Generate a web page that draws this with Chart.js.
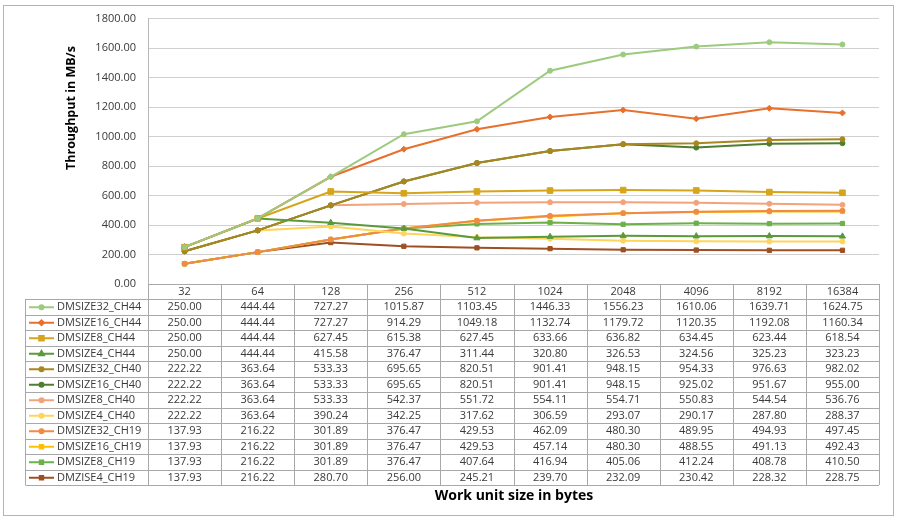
<!DOCTYPE html>
<html><head><meta charset="utf-8">
<script src="https://cdn.jsdelivr.net/npm/chart.js@4.4.1/dist/chart.umd.min.js"></script>
<style>html,body{margin:0;padding:0;background:#fff}</style>
</head><body>
<canvas id="c" width="900" height="524"></canvas>
<script>
const categories = ['32','64','128','256','512','1024','2048','4096','8192','16384'];
const seriesNames = ['DMSIZE32_CH44','DMSIZE16_CH44','DMSIZE8_CH44','DMSIZE4_CH44','DMSIZE32_CH40','DMSIZE16_CH40','DMSIZE8_CH40','DMSIZE4_CH40','DMSIZE32_CH19','DMSIZE16_CH19','DMSIZE8_CH19','DMZISE4_CH19'];
const dm32ch44 = [250.00,444.44,727.27,1015.87,1103.45,1446.33,1556.23,1610.06,1639.71,1624.75];
const dm16ch44 = [250.00,444.44,727.27,914.29,1049.18,1132.74,1179.72,1120.35,1192.08,1160.34];
const dm8ch44  = [250.00,444.44,627.45,615.38,627.45,633.66,636.82,634.45,623.44,618.54];
const dm4ch44  = [250.00,444.44,415.58,376.47,311.44,320.80,326.53,324.56,325.23,323.23];
const dm32ch40 = [222.22,363.64,533.33,695.65,820.51,901.41,948.15,954.33,976.63,982.02];
const dm16ch40 = [222.22,363.64,533.33,695.65,820.51,901.41,948.15,925.02,951.67,955.00];
const dm8ch40  = [222.22,363.64,533.33,542.37,551.72,554.11,554.71,550.83,544.54,536.76];
const dm4ch40  = [222.22,363.64,390.24,342.25,317.62,306.59,293.07,290.17,287.80,288.37];
const dm32ch19 = [137.93,216.22,301.89,376.47,429.53,462.09,480.30,489.95,494.93,497.45];
const dm16ch19 = [137.93,216.22,301.89,376.47,429.53,457.14,480.30,488.55,491.13,492.43];
const dm8ch19  = [137.93,216.22,301.89,376.47,407.64,416.94,405.06,412.24,408.78,410.50];
const dm4ch19  = [137.93,216.22,280.70,256.00,245.21,239.70,232.09,230.42,228.32,228.75];
const yTicks = [0,200,400,600,800,1000,1200,1400,1600,1800];

const seriesData = [dm32ch44,dm16ch44,dm8ch44,dm4ch44,dm32ch40,dm16ch40,dm8ch40,dm4ch40,dm32ch19,dm16ch19,dm8ch19,dm4ch19];
const colors = ['#9CCB7E','#E8702D','#D6A51C','#5A9A3A','#A8871F','#4F7D33','#F3A37C','#FFD45A','#F08A45','#FFC000','#6DB04A','#9E4F24'];
const styles = ['circle','rectRot','rect','triangle','circle','circle','circle','circle','circle','rect','rect','rect'];
const radii  = [2.5,3,4,3.5,2.5,2.5,2.5,2.5,2.5,3,3,3];

const FONT = '"Open Sans", Lato, sans-serif';

const tablePlugin = {
  id: 'dataTable',
  beforeDraw(chart) {
    const ctx = chart.ctx;
    ctx.save();
    ctx.strokeStyle = '#B4B4B4';
    ctx.lineWidth = 1;
    ctx.strokeRect(3.5, 5.5, 890, 510);
    ctx.restore();
  },
  afterDraw(chart) {
    const ctx = chart.ctx, xs = chart.scales.x, ca = chart.chartArea;
    const n = categories.length;
    const colW = (ca.right - ca.left) / n;
    const top = ca.bottom, headH = 15, rowH = 15.5;
    const legLeft = 25.5;
    const tableBottom = top + headH + rowH * seriesNames.length;
    ctx.save();
    ctx.strokeStyle = '#A8A8A8';
    ctx.lineWidth = 1;
    ctx.beginPath();
    ctx.moveTo(ca.left, Math.round(top) + 0.5); ctx.lineTo(ca.right, Math.round(top) + 0.5);
    for (let r = 0; r <= seriesNames.length; r++) {
      const y = Math.round(top + headH + r * rowH) + 0.5;
      ctx.moveTo(legLeft, y); ctx.lineTo(ca.right, y);
    }
    for (let i = 0; i <= n; i++) {
      const x = Math.round(ca.left + i * colW) + 0.5;
      ctx.moveTo(x, top); ctx.lineTo(x, tableBottom);
    }
    ctx.moveTo(legLeft, top + headH); ctx.lineTo(legLeft, tableBottom);
    ctx.stroke();

    ctx.fillStyle = '#3A3A3A';
    ctx.font = '11px ' + FONT;
    ctx.textAlign = 'center';
    ctx.textBaseline = 'middle';
    categories.forEach((c, i) => {
      ctx.fillText(c, xs.getPixelForValue(i), top + headH / 2 + 0.5);
    });
    seriesNames.forEach((name, r) => {
      const yc = top + headH + r * rowH + rowH / 2 + 0.5;
      seriesData[r].forEach((v, i) => {
        ctx.fillStyle = '#3A3A3A';
        ctx.textAlign = 'center';
        ctx.fillText(v.toFixed(2), xs.getPixelForValue(i), yc);
      });
      ctx.strokeStyle = colors[r];
      ctx.lineWidth = 2;
      ctx.beginPath(); ctx.moveTo(29, yc); ctx.lineTo(54, yc); ctx.stroke();
      ctx.fillStyle = colors[r];
      Chart.helpers.drawPoint(ctx, {pointStyle: styles[r], radius: radii[r] * 0.8, borderWidth: 1}, 41.5, yc);
      ctx.fillStyle = '#3A3A3A';
      ctx.textAlign = 'left';
      ctx.fillText(name, 57, yc);
    });

    ctx.fillStyle = '#000';
    ctx.font = 'bold 14px ' + FONT;
    ctx.textAlign = 'center';
    ctx.fillText('Work unit size in bytes', 514, 496);
    ctx.save();
    ctx.translate(71, 108);
    ctx.rotate(-Math.PI / 2);
    ctx.font = 'bold 12.5px ' + FONT;
    ctx.fillText('Throughput in MB/s', 0, 0);
    ctx.restore();
    ctx.restore();
  }
};

new Chart(document.getElementById('c'), {
  type: 'line',
  data: {
    labels: categories,
    datasets: seriesNames.map((name, i) => ({
      label: name,
      data: seriesData[i],
      borderColor: colors[i],
      backgroundColor: colors[i],
      borderWidth: 2,
      pointStyle: styles[i],
      pointRadius: radii[i],
      pointBorderWidth: 1,
      pointHoverRadius: radii[i],
      tension: 0,
      fill: false
    }))
  },
  options: {
    responsive: false,
    animation: false,
    devicePixelRatio: 1,
    layout: { padding: { left: 0, top: 16, right: 21, bottom: 240 } },
    plugins: { legend: { display: false }, tooltip: { enabled: false } },
    scales: {
      x: { type: 'category', offset: true, display: false },
      y: {
        min: 0, max: 1800,
        afterFit(s) { s.width = 148; },
        afterBuildTicks(s) { s.ticks = yTicks.map(v => ({ value: v })); },
        ticks: { padding: 12, color: '#3A3A3A', font: { family: FONT, size: 11 }, callback: v => Number(v).toFixed(2) },
        grid: { color: '#D0D0D0', lineWidth: 1, drawTicks: false },
        border: { display: true, color: '#B8B8B8' }
      }
    }
  },
  plugins: [tablePlugin]
});
</script>
</body></html>
